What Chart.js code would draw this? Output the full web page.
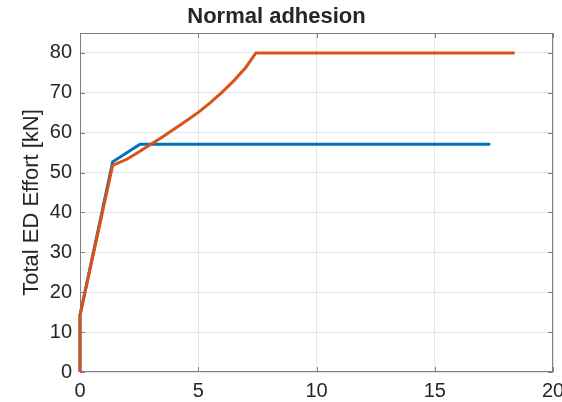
<!DOCTYPE html>
<html>
<head>
<meta charset="utf-8">
<script src="https://cdn.jsdelivr.net/npm/chart.js@4"></script>
<style>
  html, body { margin: 0; padding: 0; background: #fff; }
  #wrap { width: 562px; height: 402px; position: relative; }
</style>
</head>
<body>
<div id="wrap"><canvas id="effortChart"></canvas></div>
<script>
// speed axis values and effort for each curve
const blueX = [0, 0, 1.38, 2.54, 17.35];
const blueY = [0, 14.25, 52.7, 57.1, 57.1];
const orangeX = [0, 0, 1.38, 2.0, 2.5, 3.0, 3.5, 4.0, 4.5, 5.0, 5.5, 6.0, 6.5, 7.0, 7.44, 18.38];
const orangeY = [0, 14.25, 51.8, 53.4, 55.2, 57.1, 59.0, 61.0, 63.0, 65.1, 67.5, 70.1, 73.0, 76.3, 80, 80];

const titleText = 'Normal adhesion';
const yTitle = 'Total ED Effort [kN]';
const xRange = [0, 20];
const yRange = [0, 85];

const FONT = '"Liberation Sans", Arial, Helvetica, sans-serif';
const axisColor = '#808080';
const textColor = '#262626';

function toPoints(xs, ys) {
    return xs.map((x, i) => ({ x: x, y: ys[i] }));
}

// box + inward tick marks, matlab style (under the lines)
const boxPlugin = {
    id: 'boxPlugin',
    beforeDatasetsDraw(chart) {
        const { ctx, chartArea: a, scales } = chart;
        ctx.save();
        ctx.strokeStyle = axisColor;
        ctx.lineWidth = 1;
        ctx.strokeRect(a.left + 0.5, a.top + 0.5, a.right - a.left - 1, a.bottom - a.top - 1);
        const len = 5;
        ctx.beginPath();
        scales.x.ticks.forEach(t => {
            const px = Math.round(scales.x.getPixelForValue(t.value)) + 0.5;
            ctx.moveTo(px, a.bottom); ctx.lineTo(px, a.bottom - len);
            ctx.moveTo(px, a.top); ctx.lineTo(px, a.top + len);
        });
        scales.y.ticks.forEach(t => {
            const py = Math.round(scales.y.getPixelForValue(t.value)) + 0.5;
            ctx.moveTo(a.left, py); ctx.lineTo(a.left + len, py);
            ctx.moveTo(a.right, py); ctx.lineTo(a.right - len, py);
        });
        ctx.stroke();
        ctx.restore();
    }
};

new Chart(document.getElementById('effortChart'), {
    type: 'scatter',
    data: {
        datasets: [
            { data: toPoints(blueX, blueY), order: 2, clip: false, showLine: true, borderColor: '#0072BD', borderWidth: 3, pointRadius: 0, fill: false, tension: 0 },
            { data: toPoints(orangeX, orangeY), order: 1, clip: false, showLine: true, borderColor: '#D95319', borderWidth: 3, pointRadius: 0, fill: false, tension: 0 }
        ]
    },
    options: {
        responsive: true,
        maintainAspectRatio: false,
        animation: false,
        layout: { padding: { left: 0, right: 9, top: 0, bottom: 0 } },
        plugins: {
            legend: { display: false },
            tooltip: { enabled: false },
            title: {
                display: true, text: titleText, color: textColor,
                font: { family: FONT, size: 22, weight: 'bold' },
                padding: { top: 4, bottom: 2.6 }
            }
        },
        scales: {
            x: {
                type: 'linear', min: xRange[0], max: xRange[1],
                border: { display: false },
                grid: { color: '#e5e5e5', drawTicks: false },
                ticks: { stepSize: 5, includeBounds: false, color: textColor, padding: 7, maxRotation: 0,
                         font: { family: FONT, size: 20 } },
                afterFit(s) { s.height = 30; s.paddingLeft = 0; s.paddingRight = 0; }
            },
            y: {
                type: 'linear', min: yRange[0], max: yRange[1],
                border: { display: false },
                grid: { color: '#e5e5e5', drawTicks: false },
                ticks: { stepSize: 10, includeBounds: false, color: textColor, padding: 8,
                         font: { family: FONT, size: 20 } },
                title: { display: true, text: yTitle, color: textColor,
                         font: { family: FONT, size: 22 }, padding: { top: 18.5, bottom: 0 } },
                afterFit(s) { s.width = 80; s.paddingTop = 0; s.paddingBottom = 0; }
            }
        }
    },
    plugins: [boxPlugin]
});
</script>
</body>
</html>
